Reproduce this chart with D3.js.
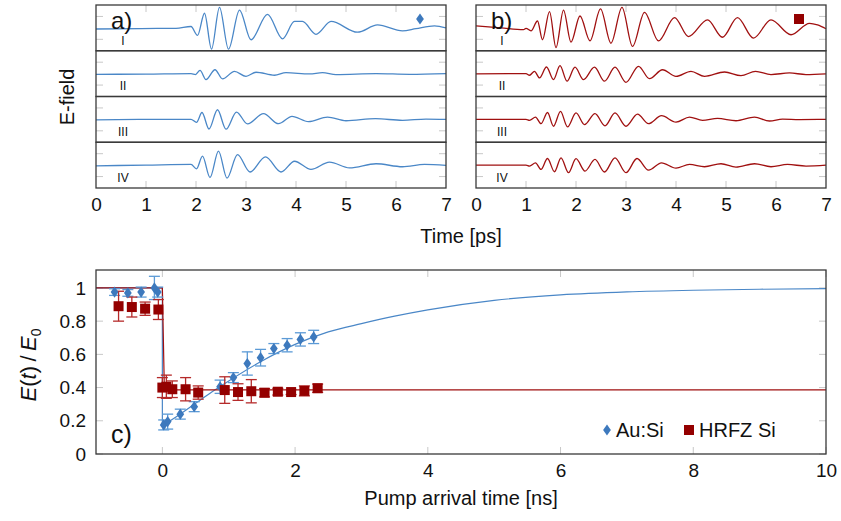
<!DOCTYPE html>
<html><head><meta charset="utf-8">
<script src="https://cdn.jsdelivr.net/npm/d3@7"></script>
<style>body{margin:0;background:#fff} text{font-family:"Liberation Sans",Arial,sans-serif;fill:#111}</style>
</head><body>
<svg id="chart" width="841" height="521"></svg>
<script>
// ---------- data: panel a (Au:Si waveforms) ----------
const aI_t   = [0, 0.9, 1.6, 1.9, 2.03, 2.17, 2.31, 2.47, 2.65, 2.87, 3.1, 3.43, 3.73, 3.97, 4.13, 4.4, 4.7, 5.23, 5.63, 6.13, 6.4, 6.77, 7.0];
const aI_v   = [-0.05, -0.03, -0.02, 0.06, -0.33, 0.64, -0.93, 0.9, -0.93, 0.78, -0.52, 0.59, -0.48, 0.28, 0.28, -0.28, 0.28, -0.19, 0.13, -0.13, -0.03, 0.09, 0.0];
const aII_t  = [0, 1.0, 1.9, 1.99, 2.08, 2.2, 2.38, 2.53, 2.77, 3.0, 3.2, 3.57, 3.8, 4.27, 4.53, 4.8, 5.6, 6.27, 7.0];
const aII_v  = [-0.03, -0.02, 0.0, -0.04, 0.14, -0.26, 0.17, -0.23, 0.1, -0.12, 0.06, -0.07, 0.04, -0.01, 0.04, -0.04, 0.0, -0.03, 0.0];
const aIII_t = [0, 1.0, 1.9, 2.01, 2.12, 2.26, 2.43, 2.6, 2.81, 3.03, 3.35, 3.65, 3.92, 4.25, 4.63, 5.0, 5.59, 6.13, 6.6, 7.0];
const aIII_v = [-0.02, 0.0, 0.0, -0.13, 0.3, -0.42, 0.42, -0.43, 0.32, -0.2, 0.25, -0.19, 0.13, -0.1, 0.1, -0.06, 0.03, -0.04, 0.01, 0.0];
const aIV_t  = [0, 1.0, 1.9, 2.01, 2.13, 2.28, 2.45, 2.62, 2.83, 3.08, 3.39, 3.7, 3.97, 4.3, 4.67, 5.07, 5.6, 6.13, 6.57, 7.0];
const aIV_v  = [-0.03, 0.0, 0.03, -0.16, 0.39, -0.54, 0.61, -0.57, 0.46, -0.3, 0.36, -0.3, 0.17, -0.19, 0.13, -0.12, 0.06, -0.07, 0.03, -0.01];
// ---------- data: panel b (HRFZ Si waveforms) ----------
const bI_t   = [0, 0.5, 0.95, 1.0, 1.1, 1.23, 1.33, 1.47, 1.6, 1.75, 1.9, 2.08, 2.28, 2.49, 2.7, 2.92, 3.13, 3.37, 3.65, 3.97, 4.25, 4.63, 4.93, 5.23, 5.55, 5.9, 6.3, 6.67, 6.83, 7.0];
const bI_v   = [0.09, 0.0, -0.08, -0.02, -0.13, 0.3, -0.52, 0.71, -0.86, 0.78, -0.62, 0.52, -0.57, 0.83, -0.67, 0.9, -0.81, 0.68, -0.57, 0.45, -0.38, 0.35, -0.41, 0.45, -0.45, 0.35, -0.3, 0.2, 0.13, -0.04];
const bII_t  = [0, 1.0, 1.07, 1.17, 1.27, 1.41, 1.55, 1.68, 1.82, 1.98, 2.15, 2.37, 2.57, 2.78, 3.0, 3.25, 3.47, 3.73, 4.0, 4.3, 4.57, 4.97, 5.3, 5.59, 5.9, 6.27, 6.6, 7.0];
const bII_v  = [-0.01, 0.0, -0.07, 0.1, -0.19, 0.29, -0.26, 0.35, -0.33, 0.28, -0.26, 0.28, -0.33, 0.28, -0.38, 0.32, -0.22, 0.17, -0.12, 0.1, -0.12, 0.07, -0.09, 0.1, -0.04, 0.03, -0.04, -0.01];
const bIII_t = [0, 1.0, 1.07, 1.19, 1.3, 1.43, 1.55, 1.69, 1.83, 2.0, 2.17, 2.38, 2.58, 2.78, 3.0, 3.23, 3.45, 3.71, 4.0, 4.27, 4.53, 4.83, 5.2, 5.57, 5.87, 6.13, 6.47, 7.0];
const bIII_v = [0, 0, -0.04, 0.1, -0.19, 0.3, -0.3, 0.35, -0.33, 0.28, -0.23, 0.25, -0.28, 0.28, -0.3, 0.23, -0.19, 0.16, -0.12, 0.1, -0.04, 0.04, -0.06, 0.1, -0.07, 0.01, -0.01, 0];
const bIV_t  = [0, 1.0, 1.07, 1.19, 1.3, 1.43, 1.57, 1.7, 1.85, 2.0, 2.18, 2.38, 2.57, 2.78, 3.0, 3.22, 3.45, 3.71, 4.0, 4.27, 4.57, 4.9, 5.2, 5.57, 5.9, 6.23, 6.6, 7.0];
const bIV_v  = [0, 0, -0.04, 0.1, -0.19, 0.29, -0.29, 0.32, -0.33, 0.28, -0.26, 0.25, -0.3, 0.32, -0.33, 0.29, -0.22, 0.1, -0.13, 0.03, -0.07, 0.06, -0.09, 0.06, -0.07, 0.03, -0.04, 0];
const rowLabels = ["I", "II", "III", "IV"];
const timeTicks = [0, 1, 2, 3, 4, 5, 6, 7];

// ---------- data: panel c ----------
const auT   = [-0.72, -0.52, -0.32, -0.12, -0.07, 0.02, 0.08, 0.27, 0.48, 0.87, 1.07, 1.28, 1.48, 1.68, 1.88, 2.08, 2.28];
const auV   = [0.975, 0.97, 0.975, 1.0, 0.975, 0.175, 0.195, 0.24, 0.285, 0.405, 0.46, 0.545, 0.58, 0.635, 0.655, 0.69, 0.705];
const auErr = [0.02, 0.02, 0.03, 0.07, 0.03, 0.03, 0.045, 0.03, 0.03, 0.04, 0.03, 0.07, 0.05, 0.03, 0.04, 0.04, 0.04];
const siT   = [-0.66, -0.46, -0.26, -0.06, 0.0, 0.06, 0.15, 0.35, 0.54, 0.94, 1.14, 1.34, 1.54, 1.74, 1.94, 2.14, 2.34];
const siV   = [0.89, 0.885, 0.875, 0.87, 0.40, 0.405, 0.39, 0.39, 0.37, 0.385, 0.373, 0.378, 0.369, 0.375, 0.373, 0.38, 0.396];
const siErr = [0.09, 0.06, 0.04, 0.06, 0.06, 0.07, 0.05, 0.07, 0.04, 0.08, 0.05, 0.07, 0.025, 0.02, 0.015, 0.03, 0.025];
const auFitStepT = [-1, 0, 0];
const auFitStepV = [1, 1, 0.17];
const auFitT = [0, 0.25, 0.5, 0.75, 1, 1.5, 2, 2.5, 3, 3.5, 4, 5, 6, 7, 8, 9, 10];
const auFitV = [0.17, 0.235, 0.305, 0.375, 0.44, 0.56, 0.66, 0.735, 0.785, 0.83, 0.868, 0.925, 0.958, 0.976, 0.986, 0.992, 0.996];
const siFitT = [-1, 0, 0.03, 10];
const siFitV = [1, 1, 0.386, 0.386];
const cXTicks = [0, 2, 4, 6, 8, 10];
const cYTicks = [0, 0.2, 0.4, 0.6, 0.8, 1];

// ---------- drawing ----------
const svg = d3.select("#chart");
svg.append("rect").attr("width", 841).attr("height", 521).attr("fill", "#fff");
const BLUE = "#4a87c7", BLUE_M = "#3d79bd", BLUE_E = "#5b9ad6";
const RED = "#a01010", RED_M = "#940000", RED_E = "#b52a2a";
const FRAME = "#3a3a3a", TICK = "#c8c8c8";

const panels = [
  {x0: 96, x1: 446, color: BLUE, rows: [[aI_t, aI_v], [aII_t, aII_v], [aIII_t, aIII_v], [aIV_t, aIV_v]], label: "a)", marker: "diamond"},
  {x0: 476, x1: 826, color: RED, rows: [[bI_t, bI_v], [bII_t, bII_v], [bIII_t, bIII_v], [bIV_t, bIV_v]], label: "b)", marker: "square"}
];
const topY = 5, rowH = 45.75;

panels.forEach((p, pi) => {
  const x = d3.scaleLinear().domain([0, 7]).range([p.x0, p.x1]);
  const g = svg.append("g");
  p.rows.forEach((r, ri) => {
    const t = topY + ri * rowH;
    const y = d3.scaleLinear().domain([-1, 1]).range([t + rowH, t]);
    const tk = g.append("g").attr("stroke", TICK).attr("stroke-width", 1);
    timeTicks.slice(1, -1).forEach(v => {
      if (ri === 0) tk.append("line").attr("x1", x(v)).attr("x2", x(v)).attr("y1", t).attr("y2", t + 7);
      if (ri === 3) tk.append("line").attr("x1", x(v)).attr("x2", x(v)).attr("y1", t + rowH).attr("y2", t + rowH - 7);
    });
    [-0.5, 0.5].forEach(v => {
      tk.append("line").attr("x1", p.x0).attr("x2", p.x0 + 7).attr("y1", y(v)).attr("y2", y(v));
      tk.append("line").attr("x1", p.x1).attr("x2", p.x1 - 7).attr("y1", y(v)).attr("y2", y(v));
    });
    const line = d3.line().x(d => x(d[0])).y(d => y(d[1])).curve(d3.curveMonotoneX);
    g.append("path").datum(d3.zip(r[0], r[1])).attr("d", line)
      .attr("fill", "none").attr("stroke", p.color).attr("stroke-width", 1.3);
    g.append("rect").attr("x", p.x0).attr("y", t).attr("width", p.x1 - p.x0).attr("height", rowH)
      .attr("fill", "none").attr("stroke", FRAME).attr("stroke-width", 1.3);
    g.append("text").attr("x", p.x0 + (pi === 0 ? 27 : 26)).attr("y", t + 39.5)
      .attr("text-anchor", "middle").attr("font-size", 12).text(rowLabels[ri]);
  });
  g.append("text").attr("x", p.x0 + 15).attr("y", 29).attr("font-size", 24).text(p.label);
  if (p.marker === "diamond") {
    g.append("path").attr("d", d3.symbol().type(d3.symbolDiamond2).size(60)())
      .attr("transform", `translate(${x(6.48)},19) scale(0.8,1.15)`).attr("fill", BLUE_M);
  } else {
    g.append("rect").attr("x", x(6.46) - 5).attr("y", 14).attr("width", 10).attr("height", 10).attr("fill", RED_M);
  }
  const ax = d3.axisBottom(x).tickValues(timeTicks).tickSize(0).tickPadding(0).tickFormat(d3.format("d"));
  const axg = svg.append("g").attr("transform", `translate(0,${topY + 4 * rowH})`).call(ax);
  axg.select(".domain").remove();
  axg.selectAll("text").attr("font-size", 19).attr("dy", "1.2em").attr("fill", "#111")
    .style("font-family", '"Liberation Sans",Arial,sans-serif');
});
svg.append("text").attr("x", 461).attr("y", 243).attr("text-anchor", "middle").attr("font-size", 20).text("Time [ps]");
svg.append("text").attr("transform", "translate(74,97) rotate(-90)").attr("text-anchor", "middle").attr("font-size", 20).text("E-field");

// ---------- panel c ----------
const cx0 = 96, cx1 = 826, cy0 = 270, cy1 = 454;
const xc = d3.scaleLinear().domain([-1, 10]).range([cx0, cx1]);
const yc = d3.scaleLinear().domain([0, 1.108]).range([cy1, cy0]);
const gc = svg.append("g");
gc.append("clipPath").attr("id", "clipc").append("rect").attr("x", cx0).attr("y", cy0).attr("width", cx1 - cx0).attr("height", cy1 - cy0);
const tkc = gc.append("g").attr("stroke", TICK).attr("stroke-width", 1);
cXTicks.forEach(v => {
  tkc.append("line").attr("x1", xc(v)).attr("x2", xc(v)).attr("y1", cy0).attr("y2", cy0 + 7);
  tkc.append("line").attr("x1", xc(v)).attr("x2", xc(v)).attr("y1", cy1).attr("y2", cy1 - 7);
});
cYTicks.forEach(v => {
  tkc.append("line").attr("x1", cx0).attr("x2", cx0 + 7).attr("y1", yc(v)).attr("y2", yc(v));
  tkc.append("line").attr("x1", cx1).attr("x2", cx1 - 7).attr("y1", yc(v)).attr("y2", yc(v));
});
const linC = d3.line().x(d => xc(d[0])).y(d => yc(d[1]));
const monC = d3.line().x(d => xc(d[0])).y(d => yc(d[1])).curve(d3.curveMonotoneX);
const fits = gc.append("g").attr("clip-path", "url(#clipc)").attr("fill", "none");
fits.append("path").attr("d", linC(d3.zip(auFitStepT, auFitStepV))).attr("stroke", BLUE).attr("stroke-width", 1.2);
fits.append("path").attr("d", monC(d3.zip(auFitT, auFitV))).attr("stroke", BLUE).attr("stroke-width", 1.2);
fits.append("path").attr("d", linC(d3.zip(siFitT, siFitV))).attr("stroke", RED).attr("stroke-width", 1.2);

function errorBars(ts, vs, es, color) {
  const eg = gc.append("g").attr("stroke", color).attr("stroke-width", 1.3);
  ts.forEach((t, i) => {
    const X = xc(t), Y1 = yc(vs[i] - es[i]), Y2 = yc(vs[i] + es[i]);
    eg.append("line").attr("x1", X).attr("x2", X).attr("y1", Y1).attr("y2", Y2);
    eg.append("line").attr("x1", X - 5.5).attr("x2", X + 5.5).attr("y1", Y1).attr("y2", Y1);
    eg.append("line").attr("x1", X - 5.5).attr("x2", X + 5.5).attr("y1", Y2).attr("y2", Y2);
  });
}
errorBars(auT, auV, auErr, BLUE_E);
errorBars(siT, siV, siErr, RED_E);
const diamond = d3.symbol().type(d3.symbolDiamond2).size(60)();
gc.append("g").selectAll("path").data(d3.zip(auT, auV)).join("path")
  .attr("d", diamond).attr("transform", d => `translate(${xc(d[0])},${yc(d[1])}) scale(0.8,1.15)`).attr("fill", BLUE_M);
gc.append("g").selectAll("rect").data(d3.zip(siT, siV)).join("rect")
  .attr("x", d => xc(d[0]) - 5).attr("y", d => yc(d[1]) - 5).attr("width", 10).attr("height", 10).attr("fill", RED_M);
gc.append("rect").attr("x", cx0).attr("y", cy0).attr("width", cx1 - cx0).attr("height", cy1 - cy0)
  .attr("fill", "none").attr("stroke", FRAME).attr("stroke-width", 1.3);

const axX = svg.append("g").attr("transform", `translate(0,${cy1})`)
  .call(d3.axisBottom(xc).tickValues(cXTicks).tickSize(0).tickPadding(0).tickFormat(d3.format("d")));
axX.select(".domain").remove();
axX.selectAll("text").attr("font-size", 19).attr("dy", "1.2em").attr("fill", "#111").style("font-family", '"Liberation Sans",Arial,sans-serif');
const axY = svg.append("g").attr("transform", `translate(${cx0},0)`)
  .call(d3.axisLeft(yc).tickValues(cYTicks).tickSize(0).tickPadding(10).tickFormat(d => d3.format("")(+d.toFixed(1))));
axY.select(".domain").remove();
axY.selectAll("text").attr("font-size", 19).attr("fill", "#111").style("font-family", '"Liberation Sans",Arial,sans-serif');

svg.append("text").attr("x", 461).attr("y", 505).attr("text-anchor", "middle").attr("font-size", 20).text("Pump arrival time [ns]");
const yl = svg.append("text").attr("transform", "translate(36,365) rotate(-90)").attr("text-anchor", "middle").attr("font-size", 22);
yl.append("tspan").attr("font-style", "italic").text("E");
yl.append("tspan").text("(");
yl.append("tspan").attr("font-style", "italic").text("t");
yl.append("tspan").text(")\u2009/\u2009");
yl.append("tspan").attr("font-style", "italic").text("E");
yl.append("tspan").attr("font-size", 14).attr("dy", 5).text("0");
svg.append("text").attr("x", 111).attr("y", 443).attr("font-size", 25).text("c)");

// legend
const lg = svg.append("g");
lg.append("path").attr("d", diamond).attr("transform", "translate(607,430) scale(0.8,1.15)").attr("fill", BLUE_M);
lg.append("text").attr("x", 616).attr("y", 437).attr("font-size", 20).text("Au:Si");
lg.append("rect").attr("x", 684).attr("y", 425).attr("width", 10).attr("height", 10).attr("fill", RED_M);
lg.append("text").attr("x", 699).attr("y", 437).attr("font-size", 20).text("HRFZ Si");
</script>
</body></html>
